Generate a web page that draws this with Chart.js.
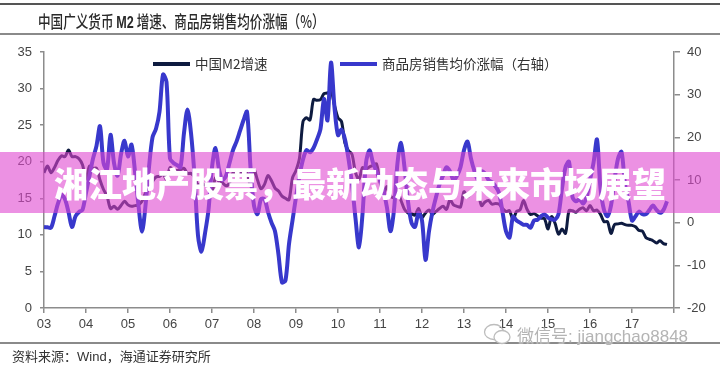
<!DOCTYPE html>
<html>
<head>
<meta charset="utf-8">
<script src="https://cdn.jsdelivr.net/npm/chart.js@4.4.1/dist/chart.umd.min.js"></script>
<style>
    html, body { margin: 0; padding: 0; background: #fff; }
    #wrap { position: relative; width: 720px; height: 366px; overflow: hidden; font-family: "Noto Sans CJK SC", sans-serif; }
    #chart { position: absolute; left: 0; top: 0; }
    .rule { position: absolute; left: 0; width: 720px; }
    #title { position: absolute; left: 38px; top: 8px; font-size: 17px; font-weight: 500; color: #2a2a2a; white-space: nowrap; transform: scaleX(0.74); transform-origin: left top; }
    #title b { font-family: "Liberation Sans", sans-serif; }
    #source { position: absolute; left: 12px; top: 346px; font-size: 13px; color: #333; white-space: nowrap; }
    #source span { font-family: "Liberation Sans", sans-serif; }
    #banner { position: absolute; left: 0; top: 152px; width: 720px; height: 61px; background: rgba(224, 72, 208, 0.6); color: #fff; font-weight: 900; font-size: 34px; line-height: 61px; text-align: center; white-space: nowrap; }
    #mark { position: absolute; left: 483px; top: 322px; height: 24px; display: flex; align-items: center; color: #b4b4b4; white-space: nowrap; text-shadow: 0 0 2px #fff; }
    #mark .txt { font-size: 17px; margin-left: 4px; }
    #mark .lat { font-family: "Liberation Sans", sans-serif; }
</style>
</head>
<body>
<div id="wrap">
    <canvas id="chart" width="720" height="366"></canvas>
    <div class="rule" style="top:3px;height:2px;background:#555;"></div>
    <div id="title">中国广义货币 <b>M2</b> 增速、商品房销售均价涨幅（%）</div>
    <div class="rule" style="top:33px;height:2px;background:#8a8a8a;"></div>
    <div class="rule" style="top:342px;height:2px;background:#8a8a8a;"></div>
    <div id="source">资料来源：<span>Wind</span>，海通证券研究所</div>
    <div id="mark">
        <svg width="30" height="24" viewBox="0 0 30 24">
            <ellipse cx="11" cy="10" rx="9.5" ry="7.5" fill="none" stroke="#bdbdbd" stroke-width="1.3"/>
            <ellipse cx="19" cy="15" rx="8" ry="6.5" fill="#fff" stroke="#bdbdbd" stroke-width="1.3"/>
        </svg>
        <span class="txt">微信号<span class="lat">: jiangchao8848</span></span>
    </div>
    <div id="banner">湘江地产股票，最新动态与未来市场展望</div>
</div>
<script>
// months counted from Jan 2003
const START_YEAR = 2003;
const END_YEAR = 2018;

const seriesNames = ["中国M2增速", "商品房销售均价涨幅（右轴）"];

// 中国M2增速 (%), left axis, Jan 2003 - Nov 2017
const m2Growth = [
    18.5, 19.4, 18.5, 19.2, 20.2, 20.8, 20.7, 21.6, 20.7, 20.7, 20.4, 19.6,
    17.6, 19.4, 19.1, 19.1, 17.5, 16.2, 15.3, 13.6, 13.9, 13.5, 14.0, 14.6,
    14.1, 13.9, 14.0, 14.1, 14.6, 15.7, 16.3, 17.3, 17.9, 18.0, 18.3, 17.6,
    19.2, 18.8, 18.8, 18.9, 19.1, 18.4, 18.4, 17.9, 16.8, 17.1, 16.8, 16.9,
    15.9, 17.8, 17.3, 17.1, 16.7, 17.1, 18.5, 18.1, 18.5, 18.5, 18.5, 16.7,
    18.9, 17.5, 16.3, 16.9, 18.1, 17.4, 16.4, 16.0, 15.3, 15.0, 14.8, 17.8,
    18.8, 20.5, 25.5, 26.0, 25.7, 28.5, 28.4, 28.5, 29.3, 29.4, 29.7, 27.7,
    26.0, 25.5, 22.5, 21.5, 21.0, 18.5, 17.6, 19.2, 19.0, 19.3, 19.5, 19.7,
    17.2, 15.7, 16.6, 15.3, 15.1, 15.9, 14.7, 13.5, 13.0, 12.9, 12.7, 13.6,
    12.4, 13.0, 13.4, 12.8, 13.2, 13.6, 13.9, 13.5, 14.8, 14.1, 13.9, 13.8,
    15.9, 15.2, 15.7, 16.1, 15.8, 14.0, 14.5, 14.7, 14.2, 14.3, 14.2, 13.6,
    13.2, 13.3, 12.1, 13.2, 13.4, 14.7, 13.5, 12.8, 12.9, 12.6, 12.3, 12.2,
    10.8, 12.5, 11.6, 10.1, 10.8, 10.2, 13.3, 13.3, 13.1, 13.5, 13.7, 13.3,
    14.0, 13.3, 13.4, 12.8, 11.8, 11.8, 10.2, 11.4, 11.5, 11.6, 11.4, 11.3,
    11.3, 11.1, 10.6, 10.5, 9.6, 9.4, 9.2, 8.9, 9.2, 8.8, 8.7,
];

// 商品房销售均价涨幅 (%), right axis, Jan 2003 - Nov 2017
const housePriceGrowth = [
    -1.0, -1.1, -1.2, 1.5, 4.5, 6.5, 5.5, 2.5, -1.0, 1.5, 2.5, 3.0,
    7, 11, 15, 18, 22.6, 14, 12.5, 20.6, 14, 11, 16, 19.2,
    15.5, 18.3, 12, 4, -2.1, 4, 13, 20, 22, 26, 34.7, 33,
    15, 14, 13.5, 13, 21, 26.5, 21, 11, -3, -6.8, -2.5, 3,
    13, 17.5, 12.5, 10, 11, 14, 17, 19, 21.5, 24, 26, 13,
    4, 2, 5.5, 5.5, 2.5, 0, -2, -7.5, -14, -13.5, -5, 0.5,
    6, 11, 14.8, 17, 16.5, 17.5, 19.5, 22, 29, 24, 37.5, 27,
    20.5, 21.8, 19.5, 15, 9, 1, -5.8, 2, 14, 17, 14, 12,
    10, 7.5, 3.5, -2, 3, 14, 18.7, 13, 5, 0, -1, 2.3,
    0.5, -8.7, -2, 2.6, 6, 9, 11, 13, 12, 10, 11, 13,
    17, 19, 15, 12, 10, 12, 11.5, 10, 9.5, 8.5, 7, 2.5,
    -2, -3.5, 1.4, 0.5, 0, -0.5, -0.5, -1.2, 0.5, 0.7, 1.5, 1.9,
    1.2, 0.8, 0.7, 2, 8, 13, 14.3, 6, 5, 5.5, 4.5, 6,
    10, 14, 19.5, 8, 3, 1.5, 4, 10, 15, 16.6, 9, 5,
    0.5, 1.5, 2.6, 2, 2, 3, 4, 3, 2.3, 3, 5,
];

const M2_COLOR = "#0e1b40";
const PRICE_COLOR = "#3838cc";
const AXIS_COLOR = "#8c8c8c";
const TICK_FONT = { family: "'Liberation Sans', Arial, sans-serif", size: 13 };

const toPoints = (values) => values.map((v, i) => ({ x: i, y: v }));

const insideLegend = {
    id: "insideLegend",
    afterDatasetsDraw(chart) {
        const { ctx, chartArea } = chart;
        const y = chartArea.top + 12;
        const starts = [chartArea.left + 109, chartArea.left + 296];
        ctx.save();
        ctx.font = "13.5px 'Noto Sans CJK SC', sans-serif";
        ctx.textBaseline = "middle";
        chart.data.datasets.forEach((ds, i) => {
            const x = starts[i];
            ctx.strokeStyle = ds.borderColor;
            ctx.lineWidth = 4;
            ctx.beginPath();
            ctx.moveTo(x, y);
            ctx.lineTo(x + 37, y);
            ctx.stroke();
            ctx.fillStyle = "#333";
            ctx.fillText(ds.label, x + 42, y);
        });
        ctx.restore();
    },
};

new Chart(document.getElementById("chart"), {
    type: "line",
    data: {
        datasets: [
            {
                label: seriesNames[0],
                data: toPoints(m2Growth),
                yAxisID: "y",
                borderColor: M2_COLOR,
                borderWidth: 3,
                pointRadius: 0,
                tension: 0.3,
                order: 1,
            },
            {
                label: seriesNames[1],
                data: toPoints(housePriceGrowth),
                yAxisID: "y1",
                borderColor: PRICE_COLOR,
                borderWidth: 4,
                pointRadius: 0,
                tension: 0.3,
                order: 0,
            },
        ],
    },
    options: {
        responsive: false,
        animation: false,
        devicePixelRatio: 1,
        layout: { padding: { top: 52, left: 0, right: 0, bottom: 0 } },
        plugins: { legend: { display: false }, tooltip: { enabled: false } },
        scales: {
            x: {
                type: "linear",
                min: 0,
                max: (END_YEAR - START_YEAR) * 12,
                afterFit: (scale) => { scale.height = 58; },
                border: { color: AXIS_COLOR, width: 1.5 },
                grid: { drawOnChartArea: false, tickLength: 5, color: AXIS_COLOR, lineWidth: 1.5 },
                ticks: {
                    stepSize: 12,
                    padding: 4,
                    color: "#444",
                    font: TICK_FONT,
                    maxRotation: 0,
                    callback: (v) => {
                        const year = START_YEAR + v / 12;
                        return year < END_YEAR ? String(year % 100).padStart(2, "0") : "";
                    },
                },
            },
            y: {
                position: "left",
                min: 0,
                max: 35,
                afterFit: (scale) => { scale.width = 44; },
                border: { color: AXIS_COLOR, width: 1.5 },
                grid: { drawOnChartArea: false, tickLength: 4, color: AXIS_COLOR, lineWidth: 1.5 },
                ticks: { stepSize: 5, padding: 8, color: "#444", font: TICK_FONT },
            },
            y1: {
                position: "right",
                min: -20,
                max: 40,
                afterFit: (scale) => { scale.width = 46; },
                border: { color: AXIS_COLOR, width: 1.5 },
                grid: { drawOnChartArea: false, tickLength: 6, color: AXIS_COLOR, lineWidth: 1.5 },
                ticks: { stepSize: 10, padding: 7, color: "#444", font: TICK_FONT },
            },
        },
    },
    plugins: [insideLegend],
});
</script>
</body>
</html>
